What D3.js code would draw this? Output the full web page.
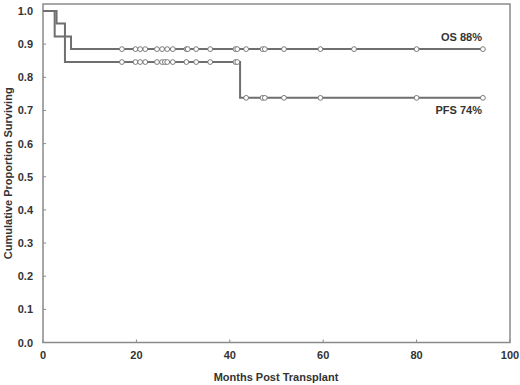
<!DOCTYPE html>
<html>
<head>
<meta charset="utf-8">
<script src="https://cdn.jsdelivr.net/npm/d3@7"></script>
<style>
  body { margin: 0; background: #fff; }
  text { font-family: "Liberation Sans", Arial, sans-serif; font-weight: bold; fill: #333; }
</style>
</head>
<body>
<svg width="520" height="385"></svg>
<script>
// Kaplan-Meier step data (months, proportion)
const osTimes = [0, 2.5, 6.0, 94.2];
const osSurv  = [1, 0.923, 0.885, 0.885];
const pfsTimes = [0, 2.9, 4.7, 42.2, 94.2];
const pfsSurv  = [1, 0.962, 0.846, 0.738, 0.738];

// censored observations
const osCensor  = [16.9, 19.8, 20.8, 21.9, 24.4, 25.5, 26.6, 27.8, 30.7, 31.0, 32.8, 35.8,
                   41.2, 41.6, 43.5, 47.0, 47.5, 51.6, 59.4, 66.6, 80.0, 94.2];
const pfsCensor = [16.9, 19.8, 20.8, 21.9, 24.4, 25.5, 26.1, 26.6, 27.8, 30.7, 32.8, 35.8,
                   41.2, 41.6, 43.5, 47.0, 47.5, 51.6, 59.4, 80.0, 94.2];

const xTicks = [0, 20, 40, 60, 80, 100];
const yTicks = d3.range(0, 11).map(i => i / 10);

const svg = d3.select('svg');
const x = d3.scaleLinear().domain([0, 100]).range([43, 510]);
const y = d3.scaleLinear().domain([0, 1]).range([342.5, 11]);
const frameTop = 4;

const chart = svg.append('g');

// frame
chart.append('rect')
    .attr('x', x(0)).attr('y', frameTop)
    .attr('width', x(100) - x(0)).attr('height', y(0) - frameTop)
    .attr('fill', 'none').attr('stroke', '#8a8a8a').attr('stroke-width', 1.5);

// ticks (inward)
chart.selectAll('.xt').data(xTicks).join('line')
    .attr('x1', d => x(d)).attr('x2', d => x(d))
    .attr('y1', y(0)).attr('y2', y(0) - 3)
    .attr('stroke', '#8a8a8a');
chart.selectAll('.yt').data(yTicks).join('line')
    .attr('x1', x(0)).attr('x2', x(0) + 3)
    .attr('y1', d => y(d)).attr('y2', d => y(d))
    .attr('stroke', '#8a8a8a');

// tick labels
chart.selectAll('.xl').data(xTicks).join('text')
    .attr('x', d => x(d)).attr('y', 359)
    .attr('text-anchor', 'middle').attr('font-size', 11)
    .text(d => d);
chart.selectAll('.yl').data(yTicks).join('text')
    .attr('x', 33).attr('y', d => y(d) + 4)
    .attr('text-anchor', 'end').attr('font-size', 11)
    .text(d => d3.format('.1f')(d));

// axis titles
svg.append('text')
    .attr('x', 276).attr('y', 381)
    .attr('text-anchor', 'middle').attr('font-size', 11)
    .text('Months Post Transplant');
svg.append('text')
    .attr('transform', `translate(12,${(frameTop + y(0)) / 2}) rotate(-90)`)
    .attr('text-anchor', 'middle').attr('font-size', 11)
    .text('Cumulative Proportion Surviving');

// curves
const line = d3.line().x(d => x(d[0])).y(d => y(d[1])).curve(d3.curveStepAfter);
const series = [
  { times: osTimes, surv: osSurv, censor: osCensor },
  { times: pfsTimes, surv: pfsSurv, censor: pfsCensor }
];
const stepAt = (s, t) => {
  let v = s.surv[0];
  s.times.forEach((tt, i) => { if (tt <= t) v = s.surv[i]; });
  return v;
};

series.forEach(s => {
  chart.append('path')
      .datum(s.times.map((t, i) => [t, s.surv[i]]))
      .attr('d', line)
      .attr('fill', 'none')
      .attr('stroke', '#6f6f6f')
      .attr('stroke-width', 2);
  chart.append('g').selectAll('circle').data(s.censor).join('circle')
      .attr('cx', d => x(d))
      .attr('cy', d => y(stepAt(s, d)))
      .attr('r', 2.4)
      .attr('fill', '#fff')
      .attr('stroke', '#7a7a7a')
      .attr('stroke-width', 1);
});

// curve labels
svg.append('text')
    .attr('x', 482).attr('y', 41)
    .attr('text-anchor', 'end').attr('font-size', 11)
    .text('OS 88%');
svg.append('text')
    .attr('x', 482).attr('y', 114)
    .attr('text-anchor', 'end').attr('font-size', 11)
    .text('PFS 74%');
</script>
</body>
</html>
